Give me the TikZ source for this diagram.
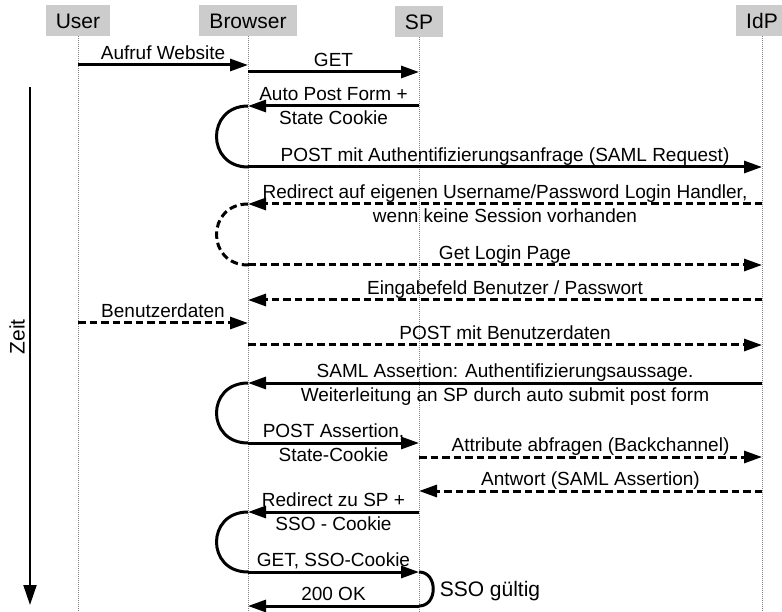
\documentclass[tikz,border=0pt]{standalone}
\usepackage{fontspec}
\setmainfont{Liberation Sans}
\usetikzlibrary{arrows.meta}
\newcommand{\msgfont}{\fontsize{19}{22}\selectfont}
\newcommand{\hdrfont}{\fontsize{21}{25}\selectfont}
\tikzset{
  actor/.style={fill=gray!40, inner xsep=10pt, inner ysep=0pt, minimum height=31pt, text height=15.3pt, text depth=0pt, font=\hdrfont},
  lifeline/.style={gray, line width=0.8pt, dash pattern=on 1pt off 1pt},
  msg/.style={line width=3pt, -{Triangle[length=18pt,width=12pt]}},
  msgloop/.style={line width=3pt},
  async/.style={dash pattern=on 7.5pt off 4pt},
  lblabove/.style={midway, anchor=base, yshift=5.3pt, inner sep=0pt, font=\msgfont},
  lblbelow/.style={midway, anchor=base, yshift=-18.7pt, inner sep=0pt, font=\msgfont},
  timeline/.style={line width=2pt, -{Triangle[length=20pt,width=13pt]}}
}
\begin{document}
\begin{tikzpicture}[x=1pt,y=-1pt]
\useasboundingbox (0,0) rectangle (782,612);
\clip (0,0) rectangle (782,612);
% Participants
\node[actor] (user) at (78,20.5) {User};
\node[actor] (browser) at (248,20.5) {Browser};
\node[actor] (sp) at (419,21.5) {SP};
\node[actor] (idp) at (762,20.5) {IdP};
% Lifelines
\foreach \p in {user,browser,sp,idp}
  \draw[lifeline] (\p.south) -- (\p.south |- 0,612);
% Time axis
\coordinate (ttop) at (30,87);
\coordinate (tbot) at (30,605);
\draw[timeline] (ttop) -- (tbot);
\node[rotate=90, font=\hdrfont] (zeit) at (17,337) {Zeit};

% Login request
\draw[msg] (user |- 0,65) -- node[lblabove] (m1) {Aufruf Website} (browser |- 0,65);
\draw[msg] (browser |- 0,72) -- node[lblabove] (m2) {GET} (sp |- 0,72);
\draw[msg] (sp |- 0,106) -- node[lblabove] (m3a) {Auto Post Form +} node[lblbelow] (m3b) {State Cookie} (browser |- 0,106);
\draw[msgloop] (browser |- 0,106) .. controls +(-42,0) and +(-42,0) .. (browser |- 0,167);
\draw[msg] (browser |- 0,167) -- node[lblabove] (m4) {POST mit Authentifizierungsanfrage (SAML Request)} (idp |- 0,167);

% Login at IdP
\draw[msg, async] (idp |- 0,204) -- node[lblabove] (m5a) {Redirect auf eigenen Username/Password Login Handler,} node[lblbelow] (m5b) {wenn keine Session vorhanden} (browser |- 0,204);
\draw[msgloop, async] (browser |- 0,204) .. controls +(-42,0) and +(-42,0) .. (browser |- 0,265);
\draw[msg, async] (browser |- 0,265) -- node[lblabove] (m6) {Get Login Page} (idp |- 0,265);
\draw[msg, async] (idp |- 0,300) -- node[lblabove] (m7) {Eingabefeld Benutzer / Passwort} (browser |- 0,300);
\draw[msg, async] (user |- 0,323) -- node[lblabove] (m8) {Benutzerdaten} (browser |- 0,323);
\draw[msg, async] (browser |- 0,345) -- node[lblabove] (m9) {POST mit Benutzerdaten} (idp |- 0,345);

% Assertion
\draw[msg] (idp |- 0,383) -- node[lblabove] (m10a) {SAML Assertion: Authentifizierungsaussage.} node[lblbelow] (m10b) {Weiterleitung an SP durch auto submit post form} (browser |- 0,383);
\draw[msgloop] (browser |- 0,383) .. controls +(-42,0) and +(-42,0) .. (browser |- 0,443);
\draw[msg] (browser |- 0,443) -- node[lblabove] (m11a) {POST Assertion,} node[lblbelow] (m11b) {State-Cookie} (sp |- 0,443);
\draw[msg, async] (sp |- 0,457) -- node[lblabove] (m12) {Attribute abfragen (Backchannel)} (idp |- 0,457);
\draw[msg, async] (idp |- 0,491) -- node[lblabove] (m13) {Antwort (SAML Assertion)} (sp |- 0,491);

% SSO
\draw[msg] (sp |- 0,512) -- node[lblabove] (m14a) {Redirect zu SP +} node[lblbelow] (m14b) {SSO - Cookie} (browser |- 0,512);
\draw[msgloop] (browser |- 0,512) .. controls +(-42,0) and +(-42,0) .. (browser |- 0,572);
\draw[msg] (browser |- 0,572) -- node[lblabove] (m15) {GET, SSO-Cookie} (sp |- 0,572);
\draw[msgloop] (sp |- 0,572) .. controls +(19,0) and +(19,0) .. node[midway, anchor=west, inner sep=5pt, font=\hdrfont, text height=15pt, text depth=0pt] (sso) {SSO gültig} (sp |- 0,606);
\draw[msg] (sp |- 0,606) -- node[lblabove] (m16) {200 OK} (browser |- 0,606);
\end{tikzpicture}
\end{document}
